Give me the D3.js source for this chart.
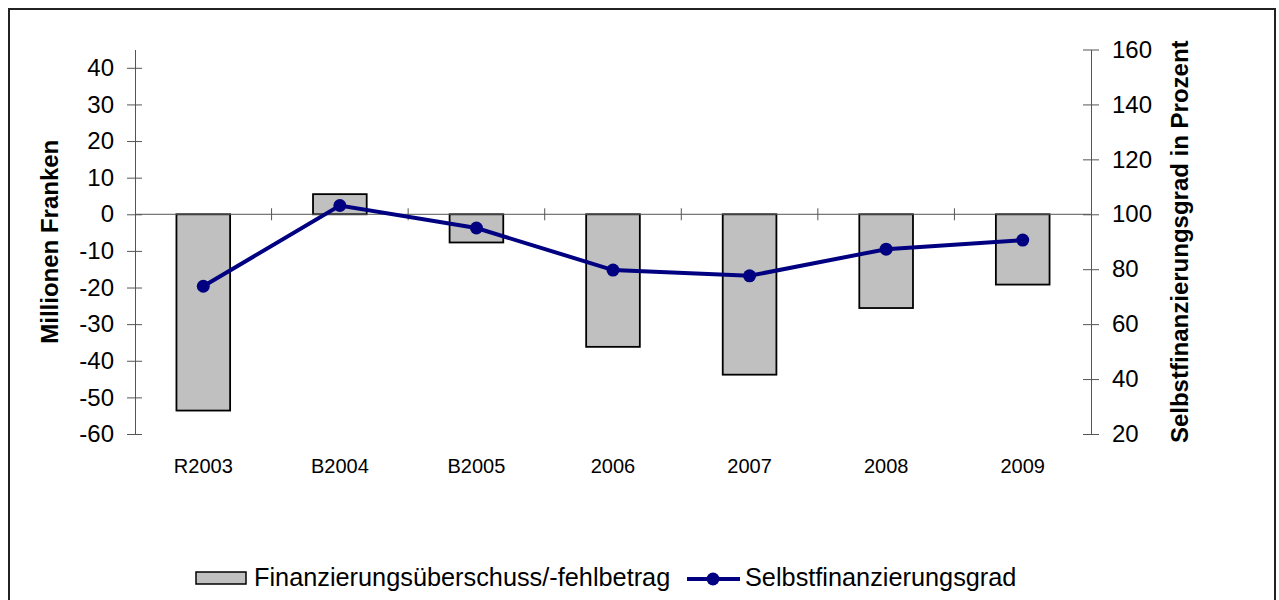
<!DOCTYPE html>
<html>
<head>
<meta charset="utf-8">
<script src="https://cdn.jsdelivr.net/npm/d3@7"></script>
<style>
  body { margin: 0; background: #fff; }
  svg { display: block; font-family: "Liberation Sans", Arial, sans-serif; }
</style>
</head>
<body>
<svg width="1279" height="600"></svg>
<script>
// data
var categories = ['R2003', 'B2004', 'B2005', '2006', '2007', '2008', '2009'];
var surplus = [-53.6, 5.5, -7.7, -36.2, -43.8, -25.6, -19.2];   // Millionen Franken
var selfFinancing = [73.8, 103.2, 95.0, 79.7, 77.6, 87.3, 90.6]; // Prozent
var leftTicks = [-60, -50, -40, -30, -20, -10, 0, 10, 20, 30, 40];
var rightTicks = [20, 40, 60, 80, 100, 120, 140, 160];

var svg = d3.select('svg');

// outer frame
svg.append('rect')
   .attr('x', 9).attr('y', 9)
   .attr('width', 1266).attr('height', 600)
   .attr('fill', 'none')
   .attr('stroke', '#222')
   .attr('stroke-width', 2);

// plot area (note: "top" is reserved on window, so use other names)
var plotLeft = 135, plotRight = 1091, plotTop = 49.5, plotBottom = 434;

var x = d3.scaleBand()
          .domain(categories)
          .range([plotLeft, plotRight]);

var yL = d3.scaleLinear().domain([-60, 45]).range([plotBottom, plotTop]);
var yR = d3.scaleLinear().domain([20, 160]).range([plotBottom, plotTop]);

// bars
var barW = x.bandwidth() * 0.393;
svg.selectAll('.bar')
   .data(categories)
   .enter()
   .append('rect')
     .classed('bar', true)
     .attr('x', d => x(d) + x.bandwidth() / 2 - barW / 2)
     .attr('y', (d, i) => yL(Math.max(0, surplus[i])))
     .attr('width', barW)
     .attr('height', (d, i) => Math.abs(yL(surplus[i]) - yL(0)))
     .attr('fill', '#c0c0c0')
     .attr('stroke', '#000')
     .attr('stroke-width', 1.8);

// zero line / category axis
var xAxis = svg.append('g')
               .attr('transform', `translate(0,${yL(0)})`);
xAxis.append('line')
     .attr('x1', plotLeft).attr('x2', plotRight)
     .attr('stroke', '#555').attr('stroke-width', 1);
xAxis.selectAll('.ctick')
     .data(categories.slice(1))
     .enter()
     .append('line')
       .attr('x1', d => x(d)).attr('x2', d => x(d))
       .attr('y1', -6).attr('y2', 6)
       .attr('stroke', '#555').attr('stroke-width', 1);

// category labels
svg.selectAll('.clabel')
   .data(categories)
   .enter()
   .append('text')
     .attr('x', d => x(d) + x.bandwidth() / 2)
     .attr('y', 473)
     .attr('text-anchor', 'middle')
     .attr('font-size', 20)
     .text(d => d);

// left axis (plain hyphen for negatives, like the original)
var axL = svg.append('g')
             .attr('transform', `translate(${plotLeft},0)`)
             .call(d3.axisLeft(yL).tickValues(leftTicks).tickFormat(d => String(d))
                     .tickSize(0).tickPadding(21));
axL.select('.domain').attr('stroke', '#555');
axL.selectAll('.tick')
   .append('line')
   .attr('x1', -8).attr('x2', 7)
   .attr('stroke', '#555');
axL.selectAll('text').attr('font-size', 24).attr('fill', '#000');
axL.attr('font-family', null).attr('font-size', null);

// right axis
var axR = svg.append('g')
             .attr('transform', `translate(${plotRight},0)`)
             .call(d3.axisRight(yR).tickValues(rightTicks).tickFormat(d => String(d))
                     .tickSize(0).tickPadding(21));
axR.select('.domain').attr('stroke', '#555');
axR.selectAll('.tick')
   .append('line')
   .attr('x1', -8).attr('x2', 8)
   .attr('stroke', '#555');
axR.selectAll('text').attr('font-size', 24).attr('fill', '#000');
axR.attr('font-family', null).attr('font-size', null);

// axis titles
svg.append('text')
   .attr('transform', `translate(58,${(plotTop + plotBottom) / 2}) rotate(-90)`)
   .attr('text-anchor', 'middle')
   .attr('font-size', 24)
   .attr('font-weight', 'bold')
   .text('Millionen Franken');

svg.append('text')
   .attr('transform', `translate(1188,${(plotTop + plotBottom) / 2}) rotate(-90)`)
   .attr('text-anchor', 'middle')
   .attr('font-size', 24)
   .attr('font-weight', 'bold')
   .text('Selbstfinanzierungsgrad in Prozent');

// line series
var line = d3.line()
             .x((d, i) => x(categories[i]) + x.bandwidth() / 2)
             .y(d => yR(d));

svg.append('path')
   .datum(selfFinancing)
   .attr('d', line)
   .attr('fill', 'none')
   .attr('stroke', '#000080')
   .attr('stroke-width', 4);

svg.selectAll('.pt')
   .data(selfFinancing)
   .enter()
   .append('circle')
     .attr('cx', (d, i) => x(categories[i]) + x.bandwidth() / 2)
     .attr('cy', d => yR(d))
     .attr('r', 6.5)
     .attr('fill', '#000080');

// legend
var legend = svg.append('g');
legend.append('rect')
      .attr('x', 196).attr('y', 572)
      .attr('width', 50).attr('height', 12)
      .attr('fill', '#c0c0c0')
      .attr('stroke', '#000')
      .attr('stroke-width', 1.5);
legend.append('text')
      .attr('x', 254).attr('y', 586)
      .attr('font-size', 25.3)
      .text('Finanzierungsüberschuss/-fehlbetrag');
legend.append('line')
      .attr('x1', 687).attr('x2', 740)
      .attr('y1', 579).attr('y2', 579)
      .attr('stroke', '#000080')
      .attr('stroke-width', 4);
legend.append('circle')
      .attr('cx', 713).attr('cy', 579).attr('r', 6.5)
      .attr('fill', '#000080');
legend.append('text')
      .attr('x', 745).attr('y', 586)
      .attr('font-size', 25.3)
      .text('Selbstfinanzierungsgrad');
</script>
</body>
</html>
